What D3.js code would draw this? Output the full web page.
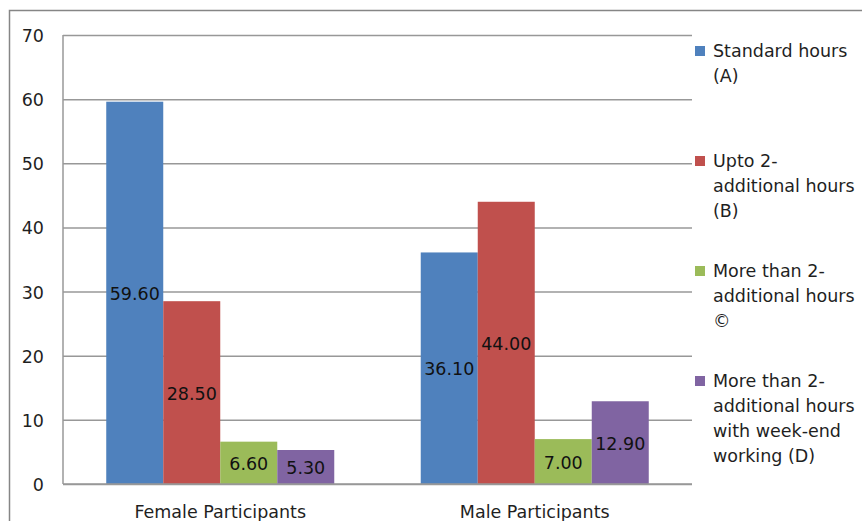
<!DOCTYPE html>
<html>
<head>
<meta charset="utf-8">
<script src="https://cdn.jsdelivr.net/npm/d3@7"></script>
<style>
    body { margin: 0; background: #fff; }
    svg { display: block; font-family: "DejaVu Sans", Verdana, sans-serif; }
    .grid line { stroke: #989898; stroke-width: 1.5; }
    .tick-label, .cat-label, .legend text { fill: #1f1f1f; font-size: 17.5px; }
    .val { fill: #111; font-size: 17.5px; }
</style>
</head>
<body>
<div id="chart"></div>
<script>
var categories = ["Female Participants", "Male Participants"];
var seriesNames = ["Standard hours (A)", "Upto 2-additional hours (B)", "More than 2-additional hours ©", "More than 2-additional hours with week-end working (D)"];
var legendLines = [
    ["Standard hours", "(A)"],
    ["Upto 2-", "additional hours", "(B)"],
    ["More than 2-", "additional hours", "©"],
    ["More than 2-", "additional hours", "with week-end", "working (D)"]
];
var standardHours = [59.60, 36.10];
var upto2Hours = [28.50, 44.00];
var moreThan2Hours = [6.60, 7.00];
var weekendHours = [5.30, 12.90];
var yTicks = [0, 10, 20, 30, 40, 50, 60, 70];
var colors = ["#4f81bd", "#c0504d", "#9bbb59", "#8064a2"];

var width = 862, height = 521;
var plot = {left: 63, right: 692, top: 35, bottom: 484};

var svg = d3.select("#chart").append("svg").attr("width", width).attr("height", height);

// outer chart frame (runs off the right and bottom edge)
svg.append("rect").attr("x", 9.5).attr("y", 10.5).attr("width", 900).attr("height", 600)
    .attr("fill", "none").attr("stroke", "#868686").attr("stroke-width", 1.5);

var y = d3.scaleLinear().domain([0, 70]).range([plot.bottom, plot.top]);

var x0 = d3.scaleBand().domain(categories).range([plot.left, plot.right])
    .paddingInner(0.275).paddingOuter(0.1375);

var x1 = d3.scaleBand().domain(seriesNames).range([0, x0.bandwidth()]);

var seriesValues = [standardHours, upto2Hours, moreThan2Hours, weekendHours];
var rows = [];
categories.forEach(function (c, ci) {
    seriesNames.forEach(function (s, si) {
        rows.push({cat: c, series: s, idx: si, value: seriesValues[si][ci]});
    });
});

// gridlines via the axis
var yGrid = d3.axisLeft(y).tickValues(yTicks).tickSize(-(plot.right - plot.left)).tickFormat("");
svg.append("g").attr("class", "grid").attr("transform", "translate(" + plot.left + ",0)")
    .call(yGrid)
    .call(g => g.select(".domain").remove());

// left axis line
svg.append("line").attr("x1", plot.left).attr("x2", plot.left)
    .attr("y1", plot.top).attr("y2", plot.bottom)
    .attr("stroke", "#989898").attr("stroke-width", 1.5);

svg.append("g").selectAll("text").data(yTicks).enter().append("text")
    .attr("class", "tick-label")
    .attr("x", plot.left - 19)
    .attr("y", function (d) { return y(d); })
    .attr("dy", "0.4em")
    .attr("text-anchor", "end")
    .text(function (d) { return d; });

var bars = svg.append("g").selectAll("rect").data(rows).enter().append("rect")
    .attr("x", function (d) { return x0(d.cat) + x1(d.series); })
    .attr("y", function (d) { return y(d.value); })
    .attr("width", x1.bandwidth())
    .attr("height", function (d) { return y(0) - y(d.value); })
    .attr("fill", function (d) { return colors[d.idx]; });

// baseline over bars
svg.append("line").attr("x1", plot.left).attr("x2", plot.right)
    .attr("y1", y(0)).attr("y2", y(0))
    .attr("stroke", "#989898").attr("stroke-width", 1.5);

svg.append("g").selectAll("text").data(rows).enter().append("text")
    .attr("class", "val")
    .attr("x", function (d) { return x0(d.cat) + x1(d.series) + x1.bandwidth() / 2; })
    .attr("y", function (d) { return (y(d.value) + y(0)) / 2; })
    .attr("dy", "0.4em")
    .attr("text-anchor", "middle")
    .text(function (d) { return d.value.toFixed(2); });

svg.append("g").selectAll("text").data(categories).enter().append("text")
    .attr("class", "cat-label")
    .attr("x", function (d) { return x0(d) + x0.bandwidth() / 2; })
    .attr("y", 518)
    .attr("text-anchor", "middle")
    .text(function (d) { return d; });

// legend, entries spread evenly like Excel does
var legend = svg.append("g").attr("class", "legend");
var entry = legend.selectAll("g").data(legendLines).enter().append("g")
    .attr("transform", function (d, i) { return "translate(695," + (57 + i * 110) + ")"; });

entry.append("rect").attr("x", 0).attr("y", -11).attr("width", 10).attr("height", 10)
    .attr("fill", function (d, i) { return colors[i]; });

entry.each(function (lines) {
    var t = d3.select(this).append("text").attr("x", 18).attr("y", 0);
    lines.forEach(function (l, k) {
        t.append("tspan").attr("x", 18).attr("y", k * 25).text(l);
    });
});
</script>
</body>
</html>
